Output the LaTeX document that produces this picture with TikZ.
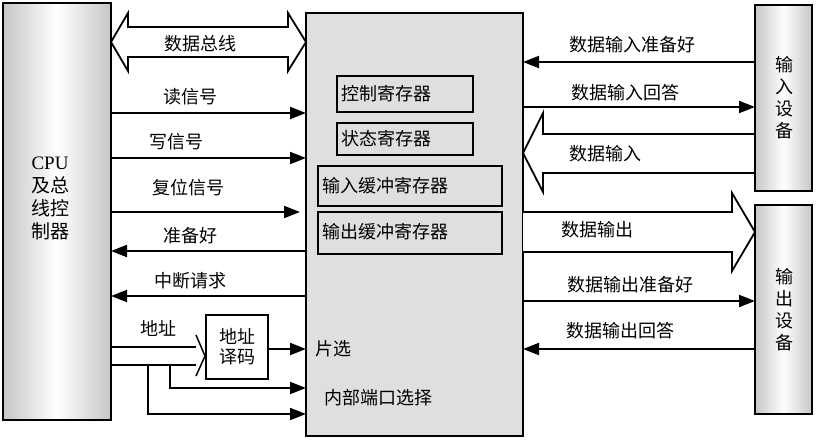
\documentclass[tikz,border=0pt]{standalone}
\usepackage{fontspec}
\setmainfont{Liberation Serif}
\newfontfamily\cjk{Noto Sans CJK SC}
\usetikzlibrary{arrows.meta}
\begin{document}
\begin{tikzpicture}[x=1pt,y=-1pt,
  lbl/.style={font=\cjk\fontsize{18}{21}\selectfont,inner sep=0pt},
  sig/.style={line width=2pt,-{Triangle[length=16pt,width=12pt]}},
  wide/.style={line width=1.8pt,fill=white,line join=miter},
  reg/.style={draw,line width=2pt,inner sep=0pt},
  dev/.style={draw,line width=2pt,left color=gray!45,right color=gray!45,middle color=white}]
\useasboundingbox (0,0) rectangle (835,439);
% boxes
\path[dev] (3,3) rectangle (111,420);
\node (cpu) at (50,198) [align=center,font=\fontsize{19}{23}\selectfont] {CPU\\{\cjk 及总}\\{\cjk 线控}\\{\cjk 制器}};
\path[draw,line width=2pt,fill=gray!25] (306,13) rectangle (523,436);
\path[dev] (755,5) rectangle (812,191);
\path[dev] (755,205) rectangle (812,414);
\node[lbl,align=center,font=\cjk\fontsize{18}{22}\selectfont] (indev) at (784,98) {输\\入\\设\\备};
\node[lbl,align=center,font=\cjk\fontsize{18}{22}\selectfont] (outdev) at (784,310) {输\\出\\设\\备};
% registers
\path[reg] (337,76) rectangle (473,112); \node[lbl,anchor=west] (r1) at (341,94) {控制寄存器};
\path[reg] (337,123) rectangle (473,155); \node[lbl,anchor=west] (r2) at (341,139) {状态寄存器};
\path[reg] (318,166) rectangle (502,206); \node[lbl,anchor=west] (r3) at (322,186) {输入缓冲寄存器};
\path[reg] (318,212) rectangle (502,254); \node[lbl,anchor=west] (r4) at (322,232) {输出缓冲寄存器};
% data bus
\draw[wide] (111,42) -- (128,13) -- (128,27) -- (288,27) -- (288,13) -- (306,42) -- (288,71) -- (288,57) -- (128,57) -- (128,71) -- cycle;
\node[lbl] (bus) at (200,44) {数据总线};
% left signals
\draw[sig] (111,113) -- (306,113); \node[lbl] at (190,97) {读信号};
\draw[sig] (111,158) -- (306,158); \node[lbl] at (176,142) {写信号};
\draw[sig] (111,212) -- (300,212); \node[lbl] at (188,188) {复位信号};
\draw[sig] (306,251) -- (111,251); \node[lbl] at (190,236) {准备好};
\draw[sig] (306,296) -- (111,296); \node[lbl] at (190,281) {中断请求};
% address
\path[reg] (206,315) rectangle (268,379);
\node[lbl,align=center,font=\cjk\fontsize{18}{20}\selectfont] (dec) at (237,347) {地址\\译码};
\node[lbl] at (158,328) {地址};
\draw[line width=2pt] (111,347) -- (196,347);
\draw[line width=2pt] (111,365) -- (196,365);
\draw[line width=1.5pt] (196,335) -- (205,356) -- (196,376);
\draw[sig] (268,349) -- (306,349); \node[lbl] at (333,349) {片选};
\draw[sig] (170,365) -- (170,388) -- (306,388);
\draw[sig] (148,365) -- (148,414) -- (306,414);
\node[lbl] at (378,398) {内部端口选择};
% right signals
\draw[sig] (755,62) -- (523,62); \node[lbl] at (632,45) {数据输入准备好};
\draw[sig] (523,107) -- (755,107); \node[lbl] at (625,93) {数据输入回答};
\draw[wide] (523,153) -- (543,113) -- (543,134) -- (755,134) -- (755,173) -- (543,173) -- (543,192) -- cycle;
\node[lbl] at (605,154) {数据输入};
\draw[wide] (523,212) -- (732,212) -- (732,193) -- (755,232) -- (732,271) -- (732,252) -- (523,252);
\node[lbl] at (597,230) {数据输出};
\draw[sig] (523,301) -- (755,301); \node[lbl] at (630,285) {数据输出准备好};
\draw[sig] (755,349) -- (523,349); \node[lbl] at (620,331) {数据输出回答};
\end{tikzpicture}
\end{document}
